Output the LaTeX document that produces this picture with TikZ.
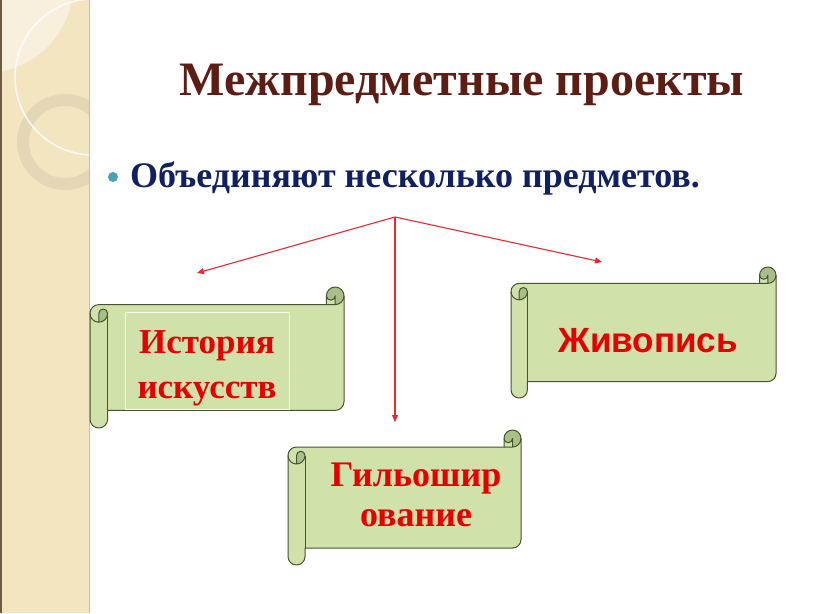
\documentclass[tikz,border=0pt]{standalone}
\usepackage{fontspec}
\setmainfont{Liberation Serif}
\newfontfamily\arialfont{Liberation Sans}
\usetikzlibrary{arrows.meta}
\definecolor{stripc}{RGB}{243,229,192}
\definecolor{stripl}{RGB}{248,239,220}
\definecolor{stripedge}{RGB}{110,92,66}
\definecolor{ringc}{RGB}{226,213,180}
\definecolor{titlec}{RGB}{92,30,20}
\definecolor{bulletc}{RGB}{16,32,96}
\definecolor{dotc}{RGB}{74,160,180}
\definecolor{scrollfillc}{RGB}{208,226,170}
\definecolor{scrolldarkc}{RGB}{170,190,136}
\definecolor{scrolllinec}{RGB}{70,84,50}
\definecolor{redtxt}{RGB}{230,0,0}
\definecolor{arrowc}{RGB}{232,40,50}
\tikzset{
  scrollfill/.style={fill=scrollfillc},
  scrolldark/.style={fill=scrolldarkc},
  scrollline/.style={draw=scrolllinec,line width=1pt,line join=round},
  arrowline/.style={draw=arrowc,line width=1.1pt,-{Triangle[length=7pt,width=6pt]}},
  redserif/.style={text=redtxt,font=\bfseries\fontsize{35}{44}\selectfont,align=center,inner sep=0pt},
}
\newcommand\myscroll[5]{%
\begin{scope}[shift={(#1,#2)}]
\pgfmathsetmacro\sW{#3}\pgfmathsetmacro\sH{#4}
\pgfmathsetmacro\sC{#5}
\pgfmathsetmacro\sCh{#5/2}
\pgfmathsetmacro\sCq{#5/4}
\pgfmathsetmacro\sYt{1.5*#5}
\pgfmathsetmacro\sYf{2*#5}
\pgfmathsetmacro\sYs{#4-#5}
\pgfmathsetmacro\sYv{#4-#5/2}
\pgfmathsetmacro\sYp{#4-1.5*#5}
\pgfmathsetmacro\sXt{#3-#5}
\pgfmathsetmacro\sXf{#3-#5/2}
\fill[scrollfill] (\sW,\sCh) arc[start angle=0,delta angle=90,radius=\sCh] -- (\sXf,\sCh)
  arc[start angle=0,delta angle=180,radius=\sCq] -- (\sXt,\sC) -- (\sCh,\sC)
  arc[start angle=270,delta angle=-90,radius=\sCh] -- (0,\sYv)
  arc[start angle=180,delta angle=-180,radius=\sCh] -- (\sC,\sYs) -- (\sXf,\sYs)
  arc[start angle=90,delta angle=-90,radius=\sCh] -- cycle;
\fill[scrolldark] (\sCh,\sYf) arc[start angle=90,delta angle=-90,radius=\sCh]
  arc[start angle=0,delta angle=-180,radius=\sCq] -- cycle;
\fill[scrolldark] (\sXf,\sC) arc[start angle=90,delta angle=-270,radius=\sCh]
  arc[start angle=180,delta angle=-180,radius=\sCq] -- cycle;
\draw[scrollline] (0,\sYt) arc[start angle=180,delta angle=90,radius=\sCh] -- (\sXt,\sC) -- (\sXt,\sCh)
  arc[start angle=180,delta angle=180,radius=\sCh] -- (\sW,\sYp)
  arc[start angle=0,delta angle=90,radius=\sCh] -- (\sC,\sYs) -- (\sC,\sYv)
  arc[start angle=0,delta angle=180,radius=\sCh] -- cycle;
\draw[scrollline] (\sXt,\sC) -- (\sXf,\sC) arc[start angle=90,delta angle=-90,radius=\sCh];
\draw[scrollline] (\sXf,\sC) -- (\sXf,\sCh) arc[start angle=0,delta angle=180,radius=\sCq];
\draw[scrollline] (\sCh,\sYf) -- (\sCh,\sYt) arc[start angle=180,delta angle=180,radius=\sCq]
  arc[start angle=0,delta angle=180,radius=\sCh];
\draw[scrollline] (\sC,\sYt) -- (\sC,\sYs);
\end{scope}}
\begin{document}
\begin{tikzpicture}[x=1pt,y=-1pt]
\useasboundingbox (0,0) rectangle (816,613);
\fill[white] (0,0) rectangle (816,613);
% left decorative strip
\begin{scope}
\clip (0,0) rectangle (89,613);
\fill[stripc] (0,0) rectangle (89,613);
\fill[stripl] (-15,-15) circle[radius=88];
\fill[ringc,opacity=0.85,even odd rule] (65,142) circle[radius=48] (65,142) circle[radius=36];
\draw[white,opacity=0.8,line width=1.6pt] (93,77) circle[radius=78];
\end{scope}
\fill[stripedge] (0,0) rectangle (2,613);
\draw[black!25,line width=0.6pt] (89.5,0) -- (89.5,613);
% title and bullet
\node[anchor=base,text=titlec,font=\bfseries\fontsize{48}{56}\selectfont,inner sep=0pt] (title) at (462,95) {Межпредметные проекты};
\fill[dotc] (113,177) circle[radius=5];
\node[anchor=base west,text=bulletc,font=\bfseries\fontsize{36}{42}\selectfont,inner sep=0pt] (sub) at (130,187) {Объединяют несколько предметов.};
% scrolls
\myscroll{90}{287}{254}{141}{17.6}
\myscroll{511}{267}{265}{131}{16.4}
\myscroll{288}{430}{233}{135}{17}
\draw[white!85!scrollfillc,line width=0.8pt] (125,312) rectangle (289,409);
\node[redserif,font=\bfseries\fontsize{35}{45}\selectfont] (hist) at (207,368) {История\\искусств};
\node[anchor=base,text=redtxt,font=\arialfont\bfseries\fontsize{35}{40}\selectfont,inner sep=0pt] (paint) at (648,352) {Живопись};
\node[redserif,font=\bfseries\fontsize{36}{40}\selectfont] (guil) at (416,495) {Гильошир\\ование};
% arrows
\coordinate (apex) at (395,217);
\coordinate (tl) at (197,273);
\coordinate (td) at (395,422);
\coordinate (tr) at (602,262);
\draw[arrowline] (apex) -- (tl);
\draw[arrowline] (apex) -- (td);
\draw[arrowline] (apex) -- (tr);
\end{tikzpicture}
\end{document}
